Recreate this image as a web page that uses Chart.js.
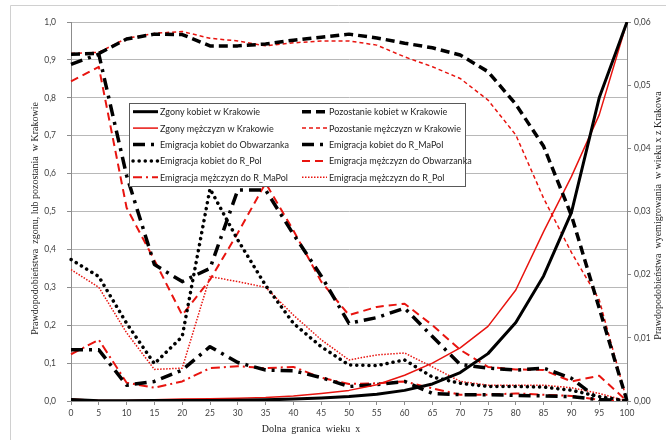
<!DOCTYPE html>
<html>
<head>
<meta charset="utf-8">
<script src="https://cdn.jsdelivr.net/npm/chart.js@4.4.1/dist/chart.umd.min.js"></script>
<style>
  html, body { margin: 0; padding: 0; background: #ffffff; }
  #wrap { width: 666px; height: 440px; position: relative; }
</style>
</head>
<body>
<div id="wrap"><canvas id="chart" width="666" height="440"></canvas></div>
<script>
// Lower bound of the age group (x)
const ages = [0, 5, 10, 15, 20, 25, 30, 35, 40, 45, 50, 55, 60, 65, 70, 75, 80, 85, 90, 95, 100];

// Left axis: probabilities of death / staying in Kraków
const zgonyKobiet = [0.004, 0.0005, 0.0005, 0.001, 0.0012, 0.0015, 0.002, 0.003, 0.005, 0.008, 0.012, 0.018, 0.028, 0.045, 0.075, 0.125, 0.207, 0.33, 0.497, 0.8, 1.0];
const zgonyMezczyzn = [0.005, 0.001, 0.001, 0.003, 0.005, 0.006, 0.007, 0.009, 0.013, 0.02, 0.028, 0.043, 0.068, 0.1, 0.14, 0.197, 0.293, 0.447, 0.592, 0.755, 1.0];
const pozostanieKobiet = [0.915, 0.917, 0.955, 0.968, 0.967, 0.937, 0.937, 0.942, 0.952, 0.960, 0.968, 0.958, 0.944, 0.932, 0.913, 0.869, 0.783, 0.672, 0.490, 0.245, 0];
const pozostanieMezczyzn = [0.917, 0.920, 0.957, 0.970, 0.975, 0.957, 0.950, 0.937, 0.945, 0.950, 0.950, 0.939, 0.908, 0.882, 0.851, 0.794, 0.702, 0.535, 0.392, 0.267, 0];

// Right axis: probabilities of emigrating from Kraków at age x
const emigKobietObwarzanek = [0.0533, 0.0549, 0.0357, 0.0216, 0.0189, 0.0210, 0.0334, 0.0334, 0.0264, 0.0198, 0.0123, 0.0132, 0.0147, 0.0102, 0.0058, 0.0052, 0.0049, 0.0052, 0.0036, 0.0002, 0];
const emigKobietRMaPol = [0.0081, 0.0081, 0.0025, 0.0031, 0.0049, 0.0086, 0.0061, 0.0049, 0.0048, 0.0037, 0.0023, 0.0026, 0.0031, 0.0012, 0.0010, 0.0010, 0.0009, 0.0008, 0.0007, 0.0002, 0];
const emigKobietRPol = [0.0224, 0.0197, 0.0123, 0.0059, 0.0102, 0.0336, 0.0255, 0.0183, 0.0123, 0.0086, 0.0057, 0.0056, 0.0065, 0.0038, 0.0028, 0.0023, 0.0023, 0.0022, 0.0017, 0.0007, 0];
const emigMezczyznObwarzanek = [0.0506, 0.0529, 0.0306, 0.0223, 0.0136, 0.0192, 0.0266, 0.0345, 0.0270, 0.0189, 0.0136, 0.0149, 0.0154, 0.0120, 0.0081, 0.0054, 0.0050, 0.0049, 0.0031, 0.0040, 0];
const emigMezczyznRMaPol = [0.0074, 0.0097, 0.0029, 0.0021, 0.0031, 0.0052, 0.0055, 0.0052, 0.0054, 0.0037, 0.0027, 0.0028, 0.0031, 0.0020, 0.0010, 0.0010, 0.0012, 0.0010, 0.0008, 0.0002, 0];
const emigMezczyznRPol = [0.0208, 0.0180, 0.0108, 0.0050, 0.0052, 0.0197, 0.0189, 0.0180, 0.0136, 0.0097, 0.0065, 0.0073, 0.0076, 0.0054, 0.0031, 0.0025, 0.0025, 0.0025, 0.0021, 0.0012, 0];

const leftTicks = [0, 0.1, 0.2, 0.3, 0.4, 0.5, 0.6, 0.7, 0.8, 0.9, 1.0];
const rightTicks = [0, 0.01, 0.02, 0.03, 0.04, 0.05, 0.06];

const BLACK = '#000000';
const RED = '#e8140f';
const TICK_FONT = { family: 'Lato', size: 8.5 };
const TICK_COLOR = '#404040';
const AXIS_COLOR = '#8c8c8c';

function line(label, data, color, width, dash, axis, cap) {
  return {
    label, data,
    borderColor: color, backgroundColor: color,
    borderWidth: width, borderDash: dash,
    borderCapStyle: cap || 'butt', borderJoinStyle: 'round',
    yAxisID: axis, pointRadius: 0, tension: 0, fill: false
  };
}

// Legend is read row by row, two entries per row
const datasets = [
  line('Zgony kobiet w Krakowie', zgonyKobiet, BLACK, 3, [], 'y'),
  line('Pozostanie kobiet w Krakowie', pozostanieKobiet, BLACK, 3.5, [9, 5], 'y'),
  line('Zgony mężczyzn w Krakowie', zgonyMezczyzn, RED, 1.5, [], 'y'),
  line('Pozostanie mężczyzn w Krakowie', pozostanieMezczyzn, RED, 1.5, [4, 3], 'y'),
  line('Emigracja kobiet do Obwarzanka', emigKobietObwarzanek, BLACK, 3.5, [12, 6, 3, 6], 'y1'),
  line('Emigracja kobiet do R_MaPol', emigKobietRMaPol, BLACK, 3.5, [12, 6, 3, 6], 'y1'),
  line('Emigracja kobiet do R_Pol', emigKobietRPol, BLACK, 3.5, [0.1, 6], 'y1', 'round'),
  line('Emigracja mężczyzn do Obwarzanka', emigMezczyznObwarzanek, RED, 2, [8, 5], 'y1'),
  line('Emigracja mężczyzn do R_MaPol', emigMezczyznRMaPol, RED, 2, [9, 4, 2, 4], 'y1'),
  line('Emigracja mężczyzn do R_Pol', emigMezczyznRPol, RED, 1.5, [1.5, 1.5], 'y1')
];

// Outer frame of the chart object
const framePlugin = {
  id: 'frame',
  beforeDraw(chart) {
    const ctx = chart.ctx;
    ctx.save();
    ctx.strokeStyle = '#d0d0d0';
    ctx.lineWidth = 1;
    ctx.beginPath();
    ctx.moveTo(10.5, 440);
    ctx.lineTo(10.5, 5.5);
    ctx.lineTo(666, 5.5);
    ctx.stroke();
    ctx.restore();
  }
};

// Axis titles in a serif face
const titlesPlugin = {
  id: 'axisTitles',
  afterDraw(chart) {
    const ctx = chart.ctx;
    const area = chart.chartArea;
    ctx.save();
    ctx.fillStyle = '#222222';
    ctx.font = '10px "Liberation Serif"';
    ctx.textAlign = 'center';
    ctx.textBaseline = 'middle';
    ctx.fillText('Dolna  granica  wieku  x', area.left + 240, 429);
    ctx.save();
    ctx.translate(35, (area.top + area.bottom) / 2 + 7);
    ctx.rotate(-Math.PI / 2);
    ctx.fillText('Prawdopodobieństwa  zgonu, lub pozostania  w Krakowie', 0, 0);
    ctx.restore();
    ctx.save();
    ctx.translate(658, (area.top + area.bottom) / 2 + 4);
    ctx.rotate(-Math.PI / 2);
    ctx.fillText('Prawdopodobieństwa  wyemigrowania  w wieku x z Krakowa', 0, 0);
    ctx.restore();
    ctx.restore();
  }
};

// Boxed two-column legend sitting inside the plot area
const legendPlugin = {
  id: 'boxLegend',
  afterDraw(chart) {
    const ctx = chart.ctx;
    const box = { left: 129.5, top: 103.5, width: 336, height: 83 };
    const colX = [133, 302];
    const sample = 25;
    const firstRow = 111.7, rowStep = 16.4;
    ctx.save();
    ctx.fillStyle = '#ffffff';
    ctx.fillRect(box.left, box.top, box.width, box.height);
    ctx.strokeStyle = '#595959';
    ctx.lineWidth = 1;
    ctx.strokeRect(box.left, box.top, box.width, box.height);
    ctx.font = '9px Lato';
    ctx.textBaseline = 'middle';
    chart.data.datasets.forEach((ds, i) => {
      const x0 = colX[i % 2];
      const y = firstRow + Math.floor(i / 2) * rowStep;
      ctx.beginPath();
      ctx.setLineDash(ds.borderDash || []);
      ctx.lineCap = ds.borderCapStyle || 'butt';
      ctx.lineWidth = ds.borderWidth;
      ctx.strokeStyle = ds.borderColor;
      ctx.moveTo(x0, y);
      ctx.lineTo(x0 + sample, y);
      ctx.stroke();
      ctx.setLineDash([]);
      ctx.fillStyle = '#262626';
      ctx.fillText(ds.label, x0 + sample + 2, y + 0.5);
    });
    ctx.restore();
  }
};

const commaFmt = (digits) => (v) => Number(v).toFixed(digits).replace('.', ',');

new Chart(document.getElementById('chart'), {
  type: 'line',
  data: { labels: ages.map(String), datasets },
  plugins: [framePlugin, legendPlugin, titlesPlugin],
  options: {
    responsive: false,
    animation: false,
    devicePixelRatio: 1,
    layout: { padding: { top: 22, left: 0, right: 0, bottom: 0 } },
    plugins: { legend: { display: false }, tooltip: { enabled: false } },
    scales: {
      x: {
        type: 'category',
        offset: false,
        grid: { display: true, drawOnChartArea: false, drawTicks: true, tickLength: 4, tickColor: AXIS_COLOR },
        border: { display: true, color: AXIS_COLOR },
        ticks: { font: TICK_FONT, color: TICK_COLOR, padding: 3, maxRotation: 0, autoSkip: false },
        afterFit: (s) => { s.height = 39; }
      },
      y: {
        position: 'left',
        min: 0, max: 1,
        afterBuildTicks: (s) => { s.ticks = leftTicks.map(v => ({ value: v })); },
        grid: { color: '#b8b8b8', tickLength: 4, tickColor: AXIS_COLOR },
        border: { display: true, color: AXIS_COLOR },
        ticks: { font: TICK_FONT, color: TICK_COLOR, padding: 11, callback: commaFmt(1) },
        afterFit: (s) => { s.width = 71; }
      },
      y1: {
        position: 'right',
        min: 0, max: 0.06,
        afterBuildTicks: (s) => { s.ticks = rightTicks.map(v => ({ value: v })); },
        grid: { drawOnChartArea: false, tickLength: 4, tickColor: AXIS_COLOR },
        border: { display: true, color: AXIS_COLOR },
        ticks: { font: TICK_FONT, color: TICK_COLOR, padding: 3, callback: commaFmt(2) },
        afterFit: (s) => { s.width = 39; }
      }
    }
  }
});
</script>
</body>
</html>
